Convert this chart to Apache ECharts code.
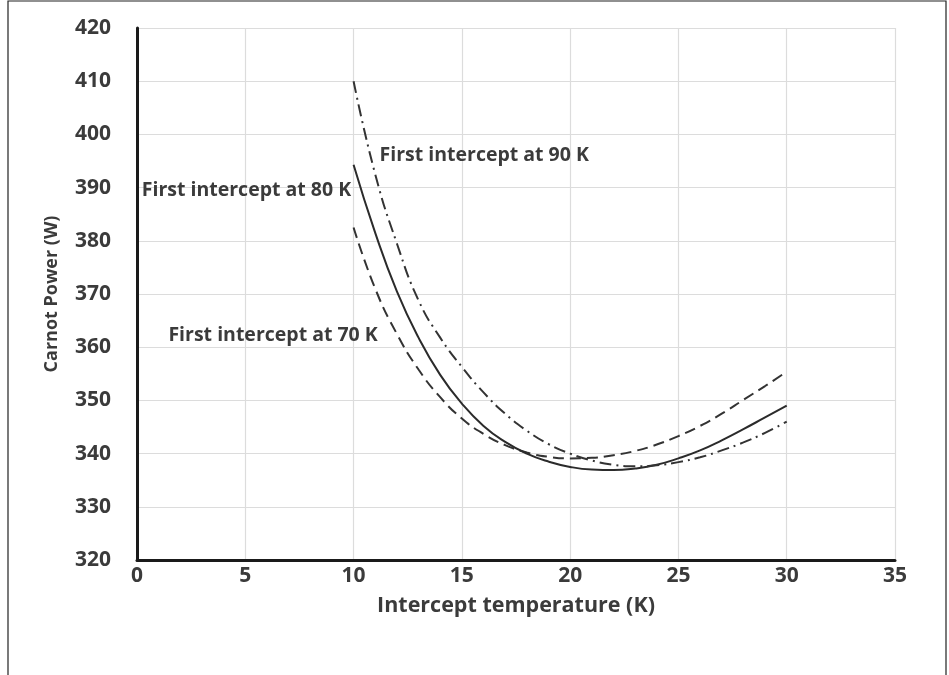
<!DOCTYPE html>
<html>
<head>
<meta charset="utf-8">
<script src="https://cdn.jsdelivr.net/npm/echarts@6/dist/echarts.min.js"></script>
<style>
  html, body { margin: 0; padding: 0; background: #fff; }
  #main { width: 949px; height: 675px; }
</style>
</head>
<body>
<div id="main"></div>
<script>
// intercept temperature (K)
const temps = [10, 11, 12, 13, 14, 15, 16, 17, 18, 19, 20, 21, 22, 23, 24, 25, 26, 27, 28, 29, 30]

// Carnot power (W)
const power70 = [382.5, 371, 362.5, 355.8, 350.6, 346.6, 343.7, 341.6, 340.2, 339.4, 339.1, 339.2, 339.7, 340.5, 341.7, 343.3, 345.2, 347.5, 350.1, 352.7, 355.4]
const power80 = [394.3, 381.5, 370.5, 361.8, 354.8, 349.4, 345.2, 342.2, 340.0, 338.5, 337.5, 337.0, 336.9, 337.2, 337.9, 339.1, 340.6, 342.5, 344.6, 346.8, 349.0]
const power90 = [410, 392.5, 379.5, 368.8, 361.8, 356.3, 351.5, 347.5, 344.3, 341.8, 340.0, 338.7, 337.9, 337.6, 337.8, 338.4, 339.3, 340.6, 342.1, 343.9, 346.0]

// annotation texts with their anchor (left edge) in data units
const notes = [
  { text: 'First intercept at 90 K', x: 11.2, y: 396 },
  { text: 'First intercept at 80 K', x: 0.22, y: 389.4 },
  { text: 'First intercept at 70 K', x: 1.45, y: 362.2 }
]

const FONT = 'Open Sans'
const ink = '#3b3b3b'

const toPairs = (ys) => temps.map((t, i) => [t, ys[i]])

const chartDom = document.getElementById('main')
const myChart = echarts.init(chartDom)

myChart.setOption({
  animation: false,
  textStyle: { fontFamily: FONT },
  graphic: [{
    type: 'rect',
    shape: { x: 8, y: 1, width: 938, height: 720 },
    style: { fill: 'none', stroke: '#222', lineWidth: 1.2 }
  }],
  grid: {
    left: 137,
    right: 54,
    top: 28,
    bottom: 115
  },
  xAxis: {
    type: 'value',
    min: 0,
    max: 35,
    interval: 5,
    name: 'Intercept temperature (K)',
    nameLocation: 'middle',
    nameGap: 35,
    nameTextStyle: { fontSize: 21.5, fontWeight: 'bold', color: ink, fontFamily: FONT },
    axisLine: { onZero: false, lineStyle: { color: '#1a1a1a', width: 3 } },
    axisTick: { show: false },
    axisLabel: { fontSize: 21, fontWeight: 'bold', color: ink, margin: 6, fontFamily: FONT },
    splitLine: { show: true, lineStyle: { color: '#dcdcdc', width: 1.2 } }
  },
  yAxis: {
    type: 'value',
    min: 320,
    max: 420,
    interval: 10,
    name: 'Carnot Power (W)',
    nameLocation: 'middle',
    nameGap: 76,
    nameTextStyle: { fontSize: 18, fontWeight: 'bold', color: ink, fontFamily: FONT },
    axisLine: { show: true, lineStyle: { color: '#1a1a1a', width: 3 } },
    axisTick: { show: false },
    axisLabel: { fontSize: 21, fontWeight: 'bold', color: ink, margin: 26, fontFamily: FONT },
    splitLine: { show: true, lineStyle: { color: '#dcdcdc', width: 1.2 } }
  },
  series: [
    {
      name: '70 K',
      type: 'line',
      smooth: true,
      showSymbol: false,
      data: toPairs(power70),
      lineStyle: { color: '#333', width: 2, type: [11, 6] },
      markPoint: {
        symbol: 'circle',
        symbolSize: 0,
        label: {
          show: true, position: 'right', distance: 0,
          fontSize: 19.5, fontWeight: 'bold', color: ink, fontFamily: FONT,
          formatter: (p) => p.name
        },
        data: notes.map((n) => ({ name: n.text, coord: [n.x, n.y] }))
      }
    },
    {
      name: '80 K',
      type: 'line',
      smooth: true,
      showSymbol: false,
      data: toPairs(power80),
      lineStyle: { color: '#2b2b2b', width: 2, type: 'solid' }
    },
    {
      name: '90 K',
      type: 'line',
      smooth: true,
      showSymbol: false,
      data: toPairs(power90),
      lineStyle: { color: '#333', width: 2, type: [12, 5, 2, 5] }
    }
  ]
})
</script>
</body>
</html>
